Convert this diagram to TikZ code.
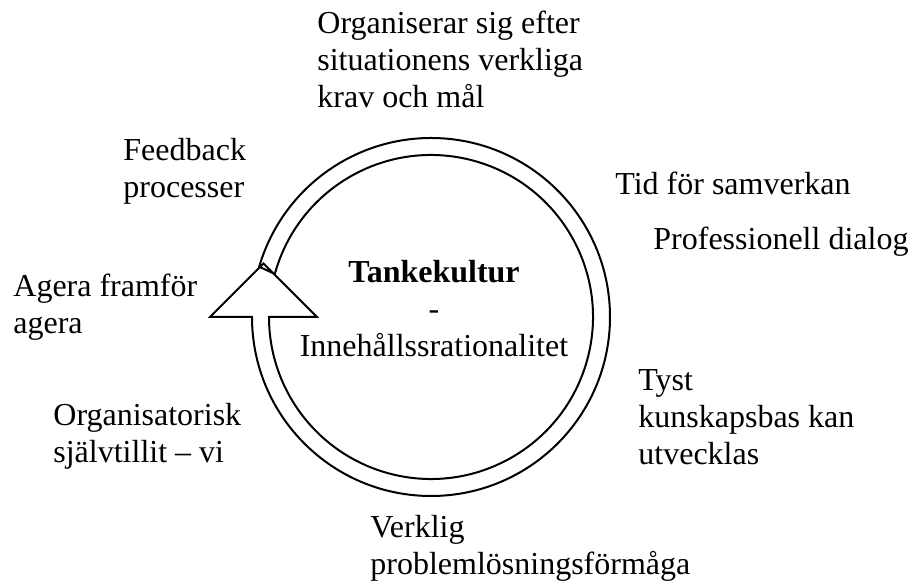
\documentclass[tikz,border=0pt]{standalone}
\usepackage{fontspec}
\setmainfont{Liberation Serif}
\usetikzlibrary{calc}
\begin{document}
\begin{tikzpicture}[x=0.5pt,y=0.5pt,
  lbl/.style={inner sep=0pt,anchor=base west,align=left,font=\fontsize{16}{18.7}\selectfont},
  ctr/.style={inner sep=0pt,anchor=base,align=center,font=\fontsize{16}{18.7}\selectfont},
  ring/.style={line width=1pt,line join=miter}]
\useasboundingbox (0,0) rectangle (912,588);
\coordinate (C) at (431,271);
% circular arrow: head at the left, body runs all the way round
\coordinate (hr) at (317,271);
\coordinate (ht) at (263.5,324.5);
\coordinate (hl) at (210,271);
\draw[ring] ($(C)+(180:162)$) -- (hr) -- (ht) -- (hl) -- ($(C)+(180:179)$)
  arc[start angle=180,end angle=523.7,radius=179]
  -- ($(C)+(524.6:162)$)
  arc[start angle=524.6,end angle=180,radius=162] -- cycle;
% labels (anchored at the baseline of their last line)
\node[ctr] (mid) at (434,231) {\textbf{Tankekultur}\\-\\Innehållssrationalitet};
\node[lbl] (top) at (317,480) {Organiserar sig efter\\situationens verkliga\\krav och mål};
\node[lbl] (feedback) at (123,390) {Feedback\\processer};
\node[lbl] (agera) at (13,254) {Agera framför\\agera};
\node[lbl] (tid) at (615,393) {Tid för samverkan};
\node[lbl] (prof) at (653,338) {Professionell dialog};
\node[lbl] (tyst) at (638,123) {Tyst\\kunskapsbas kan\\utvecklas};
\node[lbl] (org) at (53,125) {Organisatorisk\\självtillit – vi};
\node[lbl] (verklig) at (370,13) {Verklig\\problemlösningsförmåga};
\end{tikzpicture}
\end{document}
